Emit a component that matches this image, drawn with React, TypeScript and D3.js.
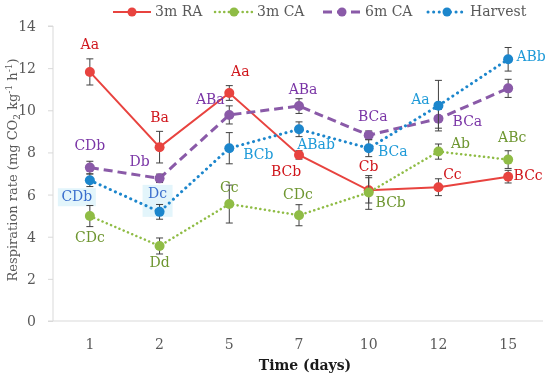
import * as d3 from "d3";
import { useEffect, useRef } from "react";

// sampling days (categories)
const days = ["1", "2", "5", "7", "10", "12", "15"];

// respiration rate means and error (mg CO2 kg-1 h-1)
const ra3m = [11.82, 8.25, 10.82, 7.88, 6.2, 6.35, 6.85];
const ra3mErr = [0.62, 0.75, 0.35, 0.2, 0.6, 0.4, 0.3];
const ca3m = [4.98, 3.56, 5.55, 5.02, 6.1, 8.04, 7.66];
const ca3mErr = [0.5, 0.38, 0.9, 0.5, 0.8, 0.36, 0.42];
const ca6m = [7.28, 6.77, 9.78, 10.2, 8.82, 9.6, 11.04];
const ca6mErr = [0.3, 0.2, 0.43, 0.35, 0.2, 0.45, 0.43];
const harvest = [6.68, 5.18, 8.2, 9.1, 8.2, 10.22, 12.42];
const harvestErr = [0.3, 0.35, 0.74, 0.35, 0.4, 1.2, 0.56];

// significance letters
const ra3mLetters = ["Aa", "Ba", "Aa", "BCb", "Cb", "Cc", "BCc"];
const ca3mLetters = ["CDc", "Dd", "Cc", "CDc", "BCb", "Ab", "ABc"];
const ca6mLetters = ["CDb", "Db", "ABa", "ABa", "BCa", "BCa", ""];
const harvestLetters = ["CDb", "Dc", "BCb", "ABab", "BCa", "Aa", "ABb"];

const yTicks = [0, 2, 4, 6, 8, 10, 12, 14];

interface Series {
  name: string;
  values: number[];
  err: number[];
  letters: string[];
  offsets: [number, number][]; // label offset from the point, px
  color: string;
  labelColor: string;
  width: number;
  dash: string | null;
  cap: string;
}

const series: Series[] = [
  {
    name: "3m RA", values: ra3m, err: ra3mErr, letters: ra3mLetters,
    offsets: [[0, -27], [0, -29], [11, -21], [-13, 17], [0, -23], [14, -12], [20, -1]],
    color: "#e8433f", labelColor: "#d0161c", width: 2, dash: null, cap: "butt",
  },
  {
    name: "3m CA", values: ca3m, err: ca3mErr, letters: ca3mLetters,
    offsets: [[0, 22], [0, 17], [0, -16], [-1, -20], [22, 11], [22, -8], [4, -22]],
    color: "#8fbc45", labelColor: "#6e9630", width: 2.5, dash: "0.1 4.5", cap: "round",
  },
  {
    name: "6m CA", values: ca6m, err: ca6mErr, letters: ca6mLetters,
    offsets: [[0, -22], [-20, -16], [-19, -15], [4, -16], [4, -18], [29, 3], [0, 0]],
    color: "#8a5aa8", labelColor: "#7a35a6", width: 3, dash: "9 5", cap: "butt",
  },
  {
    name: "Harvest", values: harvest, err: harvestErr, letters: harvestLetters,
    offsets: [[-13, 17], [-2, -18], [29, 7], [17, 16], [24, 4], [-18, -6], [23, -2]],
    color: "#1c86cc", labelColor: "#1e9ad8", width: 3, dash: "0.1 5.5", cap: "round",
  },
];

const FONT = "'DejaVu Serif', serif";

function Chart({ width, height }: { width: number; height: number }) {
  const ref = useRef<SVGSVGElement>(null);

  useEffect(() => {
    const margin = { top: 26, bottom: 58, left: 55, right: 7 };
    const svg = d3.select(ref.current);
    svg.selectAll("*").remove();

    const x = d3.scaleBand().domain(days).range([margin.left, width - margin.right]);
    const cx = (d: string) => (x(d) || 0) + x.bandwidth() / 2;
    const y = d3.scaleLinear().domain([0, 14]).range([height - margin.bottom, margin.top]);

    // y axis
    const yAxis = svg.append("g")
      .attr("transform", `translate(${margin.left - 2},0)`)
      .call(d3.axisLeft(y).tickValues(yTicks).tickSize(5).tickPadding(12));
    yAxis.selectAll("line, path").attr("stroke", "#d9d9d9");
    yAxis.select(".domain").attr("d", `M-5,${y(14)}H0V${y(0)}`);
    yAxis.selectAll("text").attr("fill", "#595959").style("font", `14px ${FONT}`);

    // x axis
    const xAxis = svg.append("g")
      .attr("transform", `translate(0,${y(0)})`)
      .call(d3.axisBottom(x).tickSize(0).tickPadding(18));
    xAxis.select(".domain").attr("stroke", "#d9d9d9").attr("d", `M${margin.left - 7},0H${width - margin.right}`);
    xAxis.selectAll("text").attr("fill", "#595959").style("font", `14px ${FONT}`);

    // axis titles
    svg.append("text")
      .attr("x", 305).attr("y", 370)
      .attr("text-anchor", "middle")
      .style("font", `bold 14px ${FONT}`)
      .attr("fill", "#1a1a1a")
      .text("Time (days)");

    const yt = svg.append("text")
      .attr("transform", `translate(17,170) rotate(-90)`)
      .attr("text-anchor", "middle")
      .style("font", `13px ${FONT}`)
      .attr("fill", "#595959");
    yt.append("tspan").text("Respiration rate (mg CO");
    yt.append("tspan").attr("font-size", "9px").attr("dy", 3).text("2");
    yt.append("tspan").attr("dy", -3).text(" kg");
    yt.append("tspan").attr("font-size", "9px").attr("dy", -5).text("-1");
    yt.append("tspan").attr("dy", 5).text(" h");
    yt.append("tspan").attr("font-size", "9px").attr("dy", -5).text("-1");
    yt.append("tspan").attr("dy", 5).text(")");

    const line = d3.line<number>().x((_, i) => cx(days[i])).y((d) => y(d));

    // highlight boxes behind the first two harvest letters
    [0, 1].forEach((i) => {
      const s = series[3];
      const [dx, dy] = s.offsets[i];
      const w = i === 0 ? 38 : 30;
      svg.append("rect")
        .attr("x", cx(days[i]) + dx - w / 2).attr("y", y(s.values[i]) + dy - 9)
        .attr("width", w).attr("height", i === 0 ? 18 : 32)
        .attr("fill", "#e3f5fb");
    });

    series.forEach((s) => {
      const g = svg.append("g");
      g.append("path")
        .attr("d", line(s.values)!)
        .attr("fill", "none")
        .attr("stroke", s.color)
        .attr("stroke-width", s.width)
        .attr("stroke-linecap", s.cap)
        .attr("stroke-dasharray", s.dash);

      // error bars
      s.values.forEach((v, i) => {
        const px = cx(days[i]);
        const lo = y(v - s.err[i]);
        const hi = y(v + s.err[i]);
        g.append("path")
          .attr("d", `M${px},${lo}V${hi}M${px - 3.5},${lo}H${px + 3.5}M${px - 3.5},${hi}H${px + 3.5}`)
          .attr("stroke", "#404040").attr("stroke-width", 1).attr("fill", "none");
      });

      g.selectAll("circle")
        .data(s.values)
        .join("circle")
        .attr("cx", (_, i) => cx(days[i]))
        .attr("cy", (d) => y(d))
        .attr("r", 5)
        .attr("fill", s.color);
    });

    // letters
    series.forEach((s, si) => {
      s.letters.forEach((t, i) => {
        if (!t) return;
        const [dx, dy] = s.offsets[i];
        svg.append("text")
          .attr("x", cx(days[i]) + dx)
          .attr("y", y(s.values[i]) + dy)
          .attr("text-anchor", "middle")
          .attr("dominant-baseline", "middle")
          .attr("fill", si === 3 && i < 2 ? "#3b6fcd" : s.labelColor)
          .style("font", `14px ${FONT}`)
          .text(t);
      });
    });

    // legend
    const legendX = [113, 215, 323, 428];
    series.forEach((s, i) => {
      const lg = svg.append("g").attr("transform", `translate(${legendX[i]},12)`);
      lg.append("line")
        .attr("x1", 0).attr("x2", 38)
        .attr("stroke", s.color)
        .attr("stroke-width", s.width)
        .attr("stroke-linecap", s.cap)
        .attr("stroke-dasharray", s.dash);
      lg.append("circle").attr("cx", 19).attr("r", 4.5).attr("fill", s.color);
      lg.append("text")
        .attr("x", 42).attr("dominant-baseline", "middle")
        .attr("fill", "#595959")
        .style("font", `14px ${FONT}`)
        .text(s.name);
    });
  }, [width, height]);

  return <svg ref={ref} width={width} height={height} style={{ display: "block" }} />;
}

export default function App() {
  return (
    <div style={{ position: "fixed", left: 0, top: 0 }}>
      <Chart width={550} height={379} />
    </div>
  );
}
